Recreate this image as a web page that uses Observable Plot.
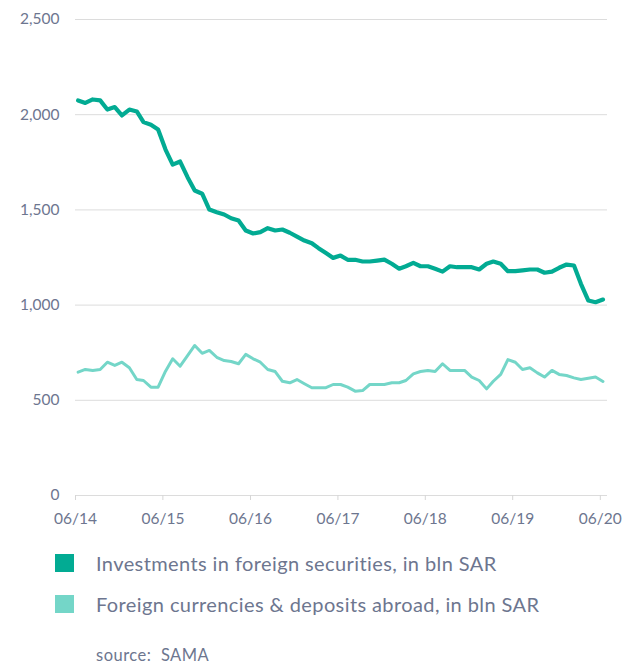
<!DOCTYPE html>
<html>
<head>
<meta charset="utf-8">
<script src="https://cdn.jsdelivr.net/npm/d3@7"></script>
<script src="https://cdn.jsdelivr.net/npm/@observablehq/plot@0.6"></script>
<style>
  body { margin: 0; background: #fff; font-family: Lato, "Noto Sans", sans-serif; }
  #chart { width: 632px; }
  .legend { padding-left: 55px; margin-top: 2px; }
  .row { display: flex; align-items: center; height: 41px; color: #6d768f; font-size: 20px; letter-spacing: 0.4px; }
  .sw { width: 19px; height: 18px; margin-right: 22px; flex: none; }
  .src { padding-left: 96px; margin-top: 21px; color: #6d768f; font-size: 16.5px; line-height: 20px; letter-spacing: 0.5px; }
</style>
</head>
<body>
<div id="chart"></div>
<script>
const seriesNames = ["Investments in foreign securities, in bln SAR", "Foreign currencies & deposits abroad, in bln SAR"];
const seriesColors = ["#02ab93", "#74d6c8"];
const startMonth = "2014-06-12";
const investments = [2075, 2062, 2080, 2075, 2027, 2040, 1996, 2027, 2017, 1961, 1947, 1922, 1817, 1738, 1754, 1672, 1602, 1585, 1502, 1488, 1476, 1456, 1444, 1392, 1376, 1383, 1404, 1392, 1397, 1380, 1360, 1339, 1325, 1299, 1273, 1248, 1260, 1238, 1238, 1229, 1229, 1234, 1239, 1217, 1191, 1204, 1222, 1204, 1204, 1191, 1176, 1204, 1199, 1199, 1199, 1187, 1217, 1229, 1217, 1178, 1178, 1182, 1187, 1187, 1170, 1176, 1196, 1213, 1208, 1112, 1024, 1015, 1029];
const deposits = [648, 662, 657, 662, 700, 683, 700, 671, 609, 604, 569, 569, 653, 718, 679, 735, 788, 747, 762, 726, 709, 704, 692, 741, 718, 700, 662, 651, 600, 592, 609, 587, 566, 566, 566, 583, 583, 569, 548, 551, 583, 583, 583, 592, 592, 604, 639, 651, 657, 651, 692, 657, 657, 657, 622, 604, 560, 600, 636, 714, 700, 662, 671, 644, 622, 657, 636, 630, 618, 609, 616, 622, 599];
const xTicks = ["2014-06-01", "2015-06-01", "2016-06-01", "2017-06-01", "2018-06-01", "2019-06-01", "2020-06-01"];
const yTicks = [0, 500, 1000, 1500, 2000, 2500];
const xDomain = ["2014-06-01", "2020-07-01"];

const start = new Date(startMonth);
const dates = investments.map((_, i) => d3.utcMonth.offset(start, i));
const rows = [];
investments.forEach((v, i) => rows.push({date: dates[i], value: v, series: seriesNames[0]}));
deposits.forEach((v, i) => rows.push({date: dates[i], value: v, series: seriesNames[1]}));

const plot = Plot.plot({
  width: 632,
  height: 540,
  marginLeft: 75,
  marginRight: 25,
  marginTop: 19,
  marginBottom: 45,
  style: {fontFamily: "Lato, 'Noto Sans', sans-serif", fontSize: "15.5px", color: "#6d768f", background: "#fff"},
  x: {type: "utc", domain: xDomain.map(d => new Date(d))},
  y: {domain: [0, 2500]},
  color: {domain: seriesNames, range: seriesColors},
  marks: [
    Plot.gridY(yTicks, {stroke: "#dcdcdc", strokeOpacity: 1, strokeWidth: 1}),
    Plot.axisY(yTicks, {label: null, tickSize: 0, tickPadding: 16, tickFormat: d3.format(","), fill: "#6d768f", style: "letter-spacing:2.2px"}),
    Plot.axisX(xTicks.map(d => new Date(d)), {label: null, tickSize: 5, tickPadding: 12, stroke: "#d6d6d6", tickFormat: d3.utcFormat("%m/%y"), fill: "#6d768f", style: "letter-spacing:2px"}),
    Plot.line(rows.filter(d => d.series === seriesNames[1]), {x: "date", y: "value", stroke: "series", strokeWidth: 3, strokeLinejoin: "round", strokeLinecap: "round"}),
    Plot.line(rows.filter(d => d.series === seriesNames[0]), {x: "date", y: "value", stroke: "series", strokeWidth: 4.2, strokeLinejoin: "round", strokeLinecap: "round"})
  ]
});
const root = document.getElementById("chart");
root.appendChild(plot);

const legend = document.createElement("div");
legend.className = "legend";
seriesNames.forEach((name, i) => {
  const row = document.createElement("div");
  row.className = "row";
  const sw = document.createElement("span");
  sw.className = "sw";
  sw.style.background = seriesColors[i];
  const label = document.createElement("span");
  label.textContent = name;
  row.appendChild(sw);
  row.appendChild(label);
  legend.appendChild(row);
});
root.appendChild(legend);
const src = document.createElement("div");
src.className = "src";
src.textContent = "source:\u00a0 SAMA";
root.appendChild(src);
</script>
</body>
</html>
